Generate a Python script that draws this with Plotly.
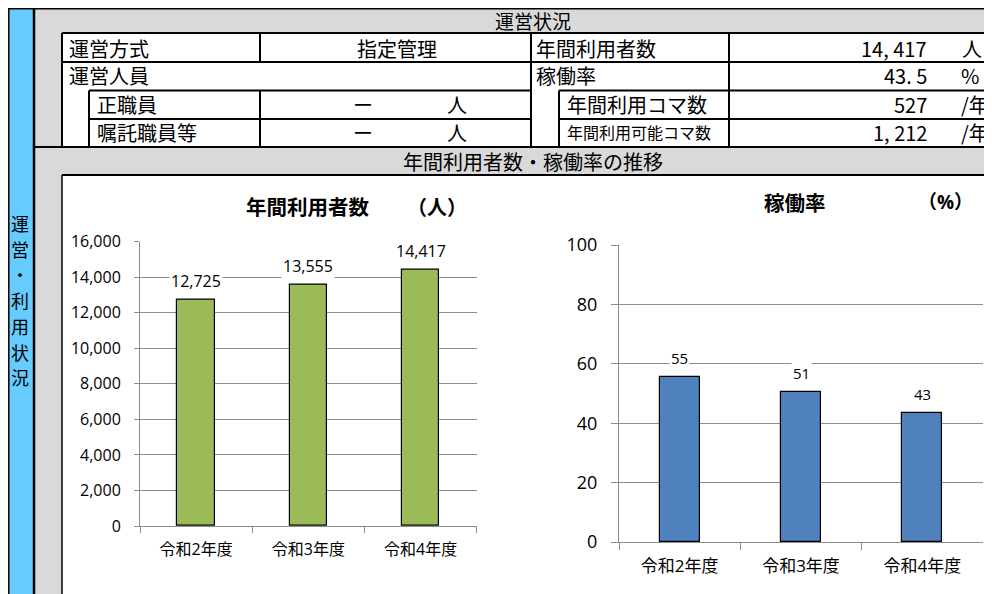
import plotly.graph_objects as go

# The page body has an 8px margin, so the figure is drawn 8px in from the window corner.
OFF = 8
W, H = 992 - OFF, 594 - OFF

# ---- data ----
categories = ["令和2年度", "令和3年度", "令和4年度"]
annual_users = [12725, 13555, 14417]
operation_rate = [55.4, 50.6, 43.48]
user_ticks = [0, 2000, 4000, 6000, 8000, 10000, 12000, 14000, 16000]
rate_ticks = [0, 20, 40, 60, 80, 100]

side_label = "運営・利用状況"
header1 = "運営状況"
header2 = "年間利用者数・稼働率の推移"
left_labels = ["運営方式", "運営人員", "正職員", "嘱託職員等"]
mgmt_method = "指定管理"
staff_values = ["ー", "ー"]
staff_unit = "人"
right_labels = ["年間利用者数", "稼働率", "年間利用コマ数", "年間利用可能コマ数"]
right_values = ["14, 417", "43. 5", "527", "1, 212"]
right_units = ["人", "%", "/年", "/年"]

chart1_title, chart1_unit = "年間利用者数", "（人）"
chart2_title, chart2_unit = "稼働率", "（%）"

JP = "Noto Sans CJK JP"
CH = "Open Sans, Noto Sans CJK JP"


def X(p):
    return (p - OFF) / W


def Y(p):
    return 1 - (p - OFF) / H


shapes = []
annotations = []


def rect(x0, y0, x1, y1, color):
    shapes.append(dict(type="rect", xref="paper", yref="paper", x0=X(x0), x1=X(x1),
                       y0=Y(y1), y1=Y(y0), fillcolor=color, line=dict(width=0), layer="below"))


def line(x0, y0, x1, y1, w=2, color="black"):
    shapes.append(dict(type="line", xref="paper", yref="paper", x0=X(x0), x1=X(x1),
                       y0=Y(y0), y1=Y(y1), line=dict(color=color, width=w), layer="above"))


def text(x, y, s, size=20, anchor="left", family=JP, bold=False, color="black"):
    if bold:
        s = "<b>" + s + "</b>"
    annotations.append(dict(xref="paper", yref="paper", x=X(x), y=Y(y), text=s, showarrow=False,
                            xanchor=anchor, yanchor="middle",
                            font=dict(family=family, size=size, color=color)))


# backgrounds
rect(0, 0, 34, 600, "#66CCFF")
rect(34, 0, 1000, 600, "#D9D9D9")
rect(62, 33, 1000, 147, "white")
rect(62, 175, 1000, 600, "white")

# table lines
line(0, 8.8, 1000, 8.8, 1.5)
line(8.8, 0, 8.8, 600, 1.5)
line(34, 0, 34, 600, 2.5)
line(62, 33, 1000, 33)
line(62, 33, 62, 147)
line(62, 62, 1000, 62)
line(89, 90.5, 531, 90.5)
line(559, 90.5, 1000, 90.5)
line(89, 119, 531, 119)
line(559, 119, 1000, 119)
line(34, 147, 1000, 147)
line(62, 175, 1000, 175)
line(62, 175, 62, 600, 1.5)
line(260, 33, 260, 62)
line(260, 90.5, 260, 147)
line(531, 33, 531, 147)
line(559, 90.5, 559, 147)
line(729, 33, 729, 147)
line(89, 90.5, 89, 147)

# vertical side label, one character per line
side_y0, side_pitch = 223, 25.7
for i, ch in enumerate(side_label):
    text(20, side_y0 + i * side_pitch, ch, size=18, anchor="center")

text(533, 20.5, header1, size=19, anchor="center")
text(533, 161, header2, anchor="center")
row_y = [48, 76, 104, 132]
text(67, row_y[0], left_labels[0])
text(67, row_y[1], left_labels[1])
text(95, row_y[2], left_labels[2])
text(95, row_y[3], left_labels[3])
text(397, row_y[0], mgmt_method, anchor="center")
for i, v in enumerate(staff_values):
    text(363, row_y[2 + i], v, anchor="center")
    text(457, row_y[2 + i], staff_unit, anchor="center")
text(534, row_y[0], right_labels[0])
text(534, row_y[1], right_labels[1])
text(565, row_y[2], right_labels[2])
text(565, row_y[3], right_labels[3], size=16)
for i in range(4):
    text(929, row_y[i], right_values[i], anchor="right")
text(972, row_y[0], right_units[0], anchor="center")
text(970, row_y[1], right_units[1], anchor="center")
text(959, row_y[2], right_units[2], anchor="left")
text(959, row_y[3], right_units[3], anchor="left")

# chart titles
text(308, 207, chart1_title, size=20.5, anchor="center", family=CH, bold=True)
text(437, 207, chart1_unit, size=20, anchor="center", family=CH, bold=True)
text(795, 203, chart2_title, size=20.5, anchor="center", family=CH, bold=True)
text(945, 202, chart2_unit, size=19, anchor="center", family=CH, bold=True)

fig = go.Figure()
fig.add_trace(go.Bar(x=categories, y=annual_users, width=0.335, xaxis="x", yaxis="y",
                     marker=dict(color="#9BBB59", line=dict(color="black", width=1.2)),
                     hoverinfo="skip"))
fig.add_trace(go.Bar(x=categories, y=operation_rate, width=0.33, xaxis="x2", yaxis="y2",
                     marker=dict(color="#4F81BD", line=dict(color="black", width=1.2)),
                     hoverinfo="skip"))

for c, v in zip(categories, annual_users):
    annotations.append(dict(xref="x", yref="y", x=c, y=v, text=f"{v:,}", showarrow=False,
                            yanchor="bottom", yshift=6, bgcolor="white",
                            font=dict(family=CH, size=16, color="black")))
for c, v in zip(categories, operation_rate):
    annotations.append(dict(xref="x2", yref="y2", x=c, y=v, text=f"{round(v)}", showarrow=False,
                            yanchor="bottom", yshift=7, bgcolor="white",
                            font=dict(family=CH, size=15, color="black")))

grid = "#8C8C8C"
axis_common = dict(showline=True, linecolor=grid, linewidth=1, ticks="outside",
                   tickcolor=grid, zeroline=False, automargin=False)

fig.update_layout(
    width=W, height=H, margin=dict(l=0, r=0, t=0, b=0, pad=0, autoexpand=False),
    paper_bgcolor="white", plot_bgcolor="rgba(0,0,0,0)",
    showlegend=False, bargap=0,
    shapes=shapes, annotations=annotations,
    xaxis=dict(domain=[X(140), X(476.7)], anchor="y", type="category", tickson="boundaries",
               ticklen=6, showgrid=False, ticklabelstandoff=9,
               tickfont=dict(family=CH, size=16, color="black"), **axis_common),
    yaxis=dict(domain=[Y(526), Y(241.7)], anchor="x", range=[0, 16000], tickvals=user_ticks,
               tickformat=",d", ticklen=5, showgrid=True, gridcolor=grid, gridwidth=1,
               ticklabelstandoff=10,
               tickfont=dict(family=CH, size=16, color="black"), **axis_common),
    xaxis2=dict(domain=[X(619), X(983)], anchor="y2", type="category", tickson="boundaries",
                ticklen=7, showgrid=False, ticklabelstandoff=9,
                tickfont=dict(family=CH, size=17, color="black"), **axis_common),
    yaxis2=dict(domain=[Y(542), Y(245)], anchor="x2", range=[0, 100], tickvals=rate_ticks,
                ticklen=7, showgrid=True, gridcolor=grid, gridwidth=1, ticklabelstandoff=10,
                tickfont=dict(family=CH, size=18, color="black"), **axis_common),
)

fig.write_html("out.html")
